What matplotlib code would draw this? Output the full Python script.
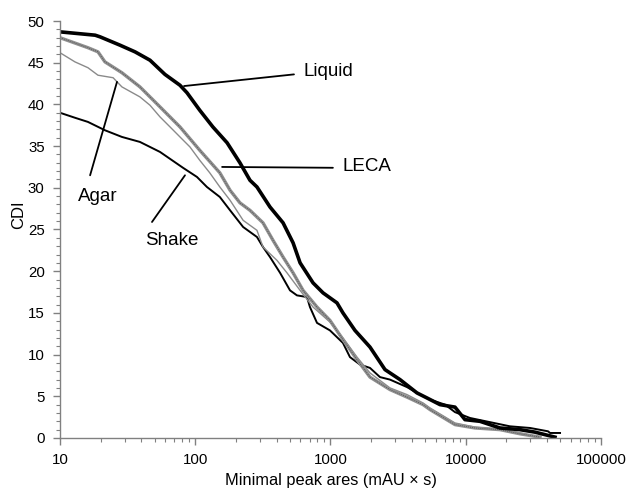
import numpy as np
import matplotlib.pyplot as plt
from matplotlib.ticker import LogLocator, MultipleLocator, FixedLocator, NullFormatter

plt.rcParams['font.family'] = ['Liberation Sans', 'DejaVu Sans']

# Liquid (trait noir épais)
liquid_x = [10, 18.2, 19.8, 27.8, 35.9, 46.3, 59.7, 77.1, 86.9, 108, 135, 172, 214,
            254, 286, 357, 446, 529, 596, 743, 881, 1117, 1236, 1517, 1959, 2529,
            3266, 4363, 5168, 6451, 8327, 9867, 12736, 17900, 25170, 32500, 38500, 45700]
liquid_y = [48.7, 48.3, 48.1, 47.1, 46.3, 45.3, 43.6, 42.3, 41.4, 39.3, 37.3, 35.4, 33.0,
            30.9, 30.1, 27.7, 25.8, 23.4, 21.0, 18.6, 17.4, 16.2, 15.0, 12.9, 10.9, 8.2,
            7.0, 5.4, 4.8, 4.0, 3.7, 2.2, 2.0, 1.2, 1.0, 0.7, 0.4, 0.1]

# LECA (trait gris hachuré)
leca_x = [10, 16.1, 19.1, 21.5, 28.7, 39.0, 54.9, 77.1, 108, 152, 181, 214, 254, 317,
          376, 446, 529, 627, 795, 991, 1236, 1570, 1959, 2754, 3680, 4833, 5445,
          8327, 11700, 17900, 25170, 35400]
leca_y = [48.0, 46.8, 46.3, 45.1, 43.8, 42.1, 39.7, 37.3, 34.5, 31.8, 29.7, 28.2, 27.3, 25.8,
          23.7, 21.7, 19.8, 17.7, 15.7, 14.1, 11.8, 9.4, 7.3, 5.8, 4.9, 4.0, 3.4,
          1.6, 1.2, 1.0, 0.5, 0.1]

# Agar (trait gris fin)
agar_x = [10, 12.9, 16.1, 19.1, 24.7, 28.7, 39.0, 46.3, 54.9, 65.1, 77.1, 91.4, 108, 128,
          152, 181, 226, 286, 317, 402, 477, 596, 743, 991, 1236, 1570, 1959, 2754,
          3680, 4833, 5445, 8327, 11700, 17900, 25170, 35400]
agar_y = [46.2, 45.1, 44.4, 43.5, 43.2, 42.1, 40.9, 39.9, 38.5, 37.3, 36.1, 34.9, 33.3, 31.8,
          30.1, 28.5, 26.1, 24.9, 22.9, 21.3, 19.8, 17.7, 15.7, 13.9, 12.0, 9.7, 7.8, 6.0,
          5.2, 4.2, 3.6, 1.8, 1.3, 1.0, 0.6, 0.1]

# Shake (trait noir moyen)
shake_x = [10, 12.9, 16.1, 21.5, 28.7, 39.0, 54.9, 81.2, 103, 122, 152, 181, 226, 286,
           317, 357, 424, 502, 565, 670, 705, 795, 991, 1236, 1393, 1652, 1959, 2323,
           2754, 3680, 4592, 5445, 7031, 8327, 10740, 15100, 21200, 29900, 40600, 42000, 49800]
shake_y = [39.0, 38.4, 37.9, 36.9, 36.1, 35.5, 34.3, 32.4, 31.3, 30.1, 28.9, 27.3, 25.3, 24.1,
           22.9, 21.7, 19.8, 17.7, 17.1, 16.9, 15.7, 13.8, 12.9, 11.4, 9.7, 8.8, 8.4, 7.3,
           7.0, 6.1, 5.2, 4.6, 4.0, 3.1, 2.4, 1.9, 1.4, 1.2, 0.8, 0.6, 0.6]

fig = plt.figure(figsize=(6.28, 4.92), dpi=100)
ax = fig.add_axes([0.0955, 0.1098, 0.8615, 0.8475])

ax.plot(shake_x, shake_y, color='black', lw=1.4)
ax.plot(agar_x, agar_y, color='#8a8a8a', lw=1.0)
ax.plot(leca_x, leca_y, color='#8f8f8f', lw=2.4)
ax.plot(leca_x, leca_y, color='#4a4a4a', lw=0.6, ls=(0, (1, 1.5)))
ax.plot(liquid_x, liquid_y, color='black', lw=2.6)

ax.set_xscale('log')
ax.set_xlim(10, 100000)
ax.set_ylim(0, 50)

for s in ['top', 'right']:
    ax.spines[s].set_visible(False)
for s in ['left', 'bottom']:
    ax.spines[s].set_color('#808080')
    ax.spines[s].set_linewidth(1.0)

ax.xaxis.set_major_locator(FixedLocator([10, 100, 1000, 10000, 100000]))
ax.set_xticklabels(['10', '100', '1000', '10000', '100000'])
ax.xaxis.set_minor_locator(LogLocator(base=10, subs=np.arange(2, 10), numticks=20))
ax.xaxis.set_minor_formatter(NullFormatter())
ax.yaxis.set_major_locator(MultipleLocator(5))
ax.yaxis.set_minor_locator(MultipleLocator(1))

ax.tick_params(axis='both', which='major', direction='out', length=5, width=1,
               color='#808080', labelsize=10.8, pad=6)
ax.tick_params(axis='both', which='minor', direction='out', length=3, width=0.8,
               color='#808080')

ax.set_xlabel('Minimal peak ares (mAU × s)', fontsize=11.8, labelpad=4)
ax.set_ylabel('CDI', fontsize=12)
ax.yaxis.set_label_coords(-0.062, 0.535)

# étiquettes avec traits de rappel
line_kw = dict(arrowstyle='-', color='black', lw=1.3, shrinkA=0, shrinkB=0)
ax.annotate('', xy=(82.6, 42.2), xytext=(537, 43.6), arrowprops=line_kw)
ax.text(627, 43.9, 'Liquid', fontsize=13.5, va='center', ha='left')
ax.annotate('', xy=(158, 32.5), xytext=(1042, 32.4), arrowprops=line_kw)
ax.text(1236, 32.6, 'LECA', fontsize=13.5, va='center', ha='left')
ax.annotate('', xy=(26.4, 42.7), xytext=(16.7, 31.5), arrowprops=line_kw)
ax.text(19.1, 28.9, 'Agar', fontsize=13.5, va='center', ha='center')
ax.annotate('', xy=(84, 31.5), xytext=(47.9, 25.9), arrowprops=line_kw)
ax.text(67.4, 23.7, 'Shake', fontsize=13.5, va='center', ha='center')

fig.savefig('out.png', dpi=100)
